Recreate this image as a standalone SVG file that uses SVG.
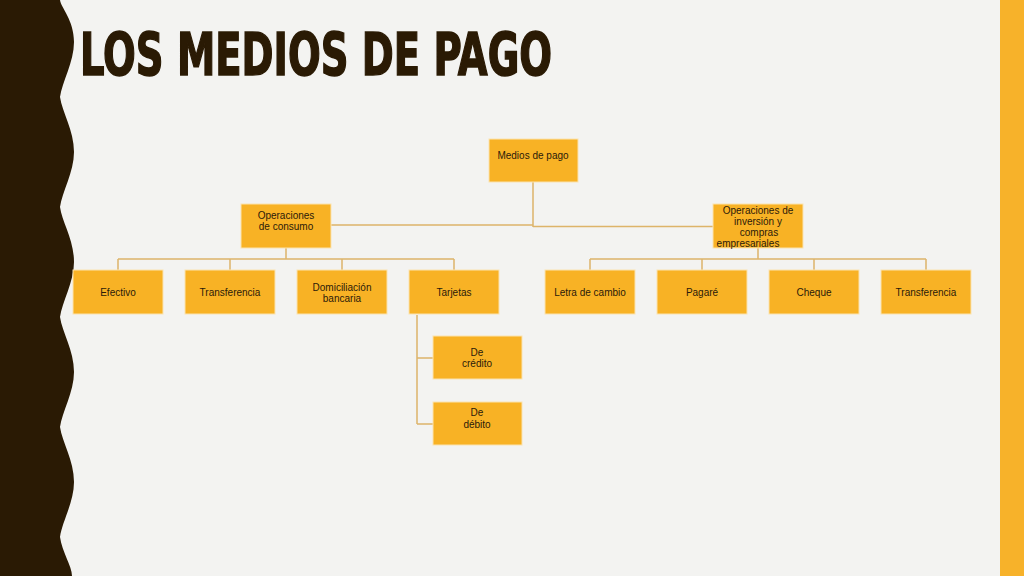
<svg xmlns="http://www.w3.org/2000/svg" width="1024" height="576" viewBox="0 0 1024 576">
<style>
.box{fill:#F8B225;stroke:#FBE3B0;stroke-width:1}
.t{font-family:"Liberation Sans",Arial,sans-serif;font-size:10px;fill:#2B1A0A;text-anchor:middle}
.c{fill:none;stroke:#DDB46A;stroke-width:1.5}
</style>
<rect width="1024" height="576" fill="#F3F3F1"/>
<path id="wave" fill="#2A1A04" d="M0 0 H60 C61 8 74 20 74 42 C74 62 62 82 60 97 C62 112 74 130 74 152 C74 172 62 192 60 207 C62 222 74 240 74 262 C74 282 62 302 60 317 C62 332 74 350 74 372 C74 392 62 412 60 427 C62 442 74 460 74 482 C74 502 62 522 60 537 C62 552 72 566 72 576 H0 Z"/>
<rect id="rightbar" x="1000" y="0" width="24" height="576" fill="#F7B22A"/>
<text id="title" x="80" y="75" textLength="472" lengthAdjust="spacingAndGlyphs" font-family="'Liberation Sans Narrow','DejaVu Sans Condensed','Liberation Sans',sans-serif" font-weight="bold" font-size="58" fill="#2A1A04" stroke="#2A1A04" stroke-width="1.5">LOS MEDIOS DE PAGO</text>
<g id="connectors">
<path class="c" d="M533 182 V227 M331 225 H533 M533 226.5 H713"/>
<path class="c" d="M286 248 V259 M118 259 H454 M118 259 V270 M230 259 V270 M342 259 V270 M454 259 V270"/>
<path class="c" d="M758 248 V259 M590 259 H926 M590 259 V270 M702 259 V270 M814 259 V270 M926 259 V270"/>
<path class="c" d="M417 315 V424 M417 358 H433 M417 424 H433"/>
</g>
<g id="n-medios"><rect class="box" x="489" y="139" width="89" height="43"/><text class="t" x="533" y="159">Medios de pago</text></g>
<g id="n-consumo"><rect class="box" x="241" y="204" width="90" height="44"/><text class="t" x="286" y="219">Operaciones</text><text class="t" x="286" y="230">de consumo</text></g>
<g id="n-inversion"><rect class="box" x="713" y="204" width="90" height="44"/><text class="t" x="758" y="214">Operaciones de</text><text class="t" x="758" y="225">inversión y</text><text class="t" x="759" y="236">compras</text><text class="t" x="748" y="247">empresariales</text></g>
<g id="n-efectivo"><rect class="box" x="73" y="270" width="90" height="44"/><text class="t" x="118" y="296">Efectivo</text></g>
<g id="n-transf1"><rect class="box" x="185" y="270" width="90" height="44"/><text class="t" x="230" y="296">Transferencia</text></g>
<g id="n-domic"><rect class="box" x="297" y="270" width="90" height="44"/><text class="t" x="342" y="291">Domiciliación</text><text class="t" x="342" y="302">bancaria</text></g>
<g id="n-tarjetas"><rect class="box" x="409" y="270" width="90" height="44"/><text class="t" x="454" y="296">Tarjetas</text></g>
<g id="n-letra"><rect class="box" x="545" y="270" width="90" height="44"/><text class="t" x="590" y="296">Letra de cambio</text></g>
<g id="n-pagare"><rect class="box" x="657" y="270" width="90" height="44"/><text class="t" x="702" y="296">Pagaré</text></g>
<g id="n-cheque"><rect class="box" x="769" y="270" width="90" height="44"/><text class="t" x="814" y="296">Cheque</text></g>
<g id="n-transf2"><rect class="box" x="881" y="270" width="90" height="44"/><text class="t" x="926" y="296">Transferencia</text></g>
<g id="n-credito"><rect class="box" x="433" y="336" width="89" height="43"/><text class="t" x="477" y="356">De</text><text class="t" x="477" y="367">crédito</text></g>
<g id="n-debito"><rect class="box" x="433" y="402" width="89" height="43"/><text class="t" x="477" y="416">De</text><text class="t" x="477" y="428">débito</text></g>
</svg>
